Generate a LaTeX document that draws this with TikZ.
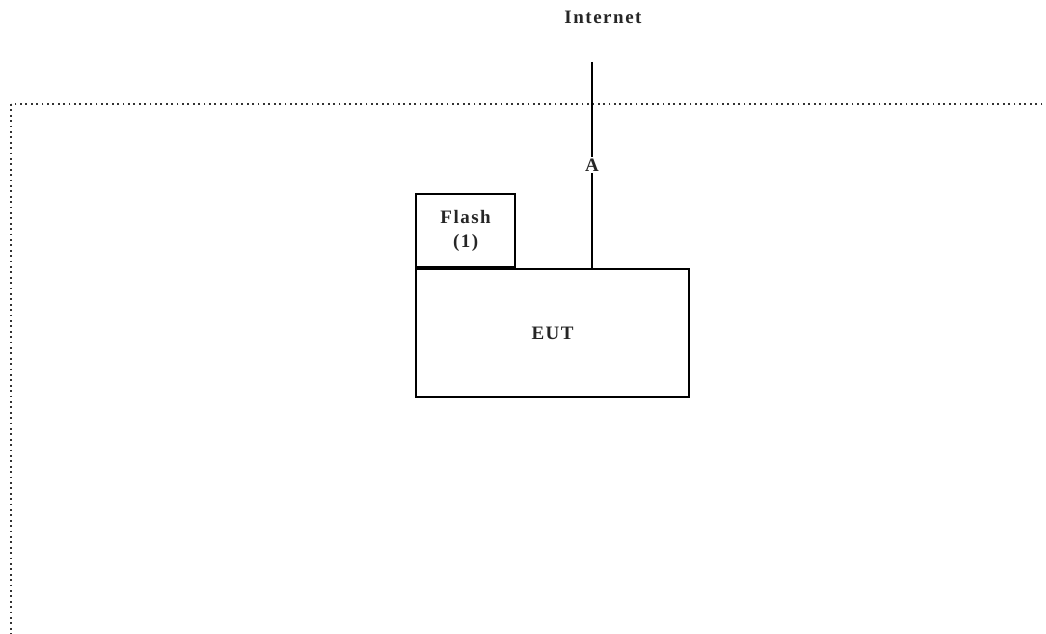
\documentclass[tikz,border=0pt]{standalone}
\usepackage{fontspec}
\setmainfont{Liberation Serif}[LetterSpace=8]
\begin{document}
\begin{tikzpicture}[x=1pt,y=-1pt,
  lbl/.style={font=\fontsize{19}{22}\selectfont\bfseries, text=black!85, align=center},
  box/.style={draw, line width=2.2pt, inner sep=0pt},
  frame/.style={line width=2pt, dash pattern=on 1.8pt off 3.6pt, black!80}]
\useasboundingbox (0,0) rectangle (1046,634);
\begin{scope}
\clip (0,0) rectangle (1046,634);
\draw[frame] (11,104) rectangle (1060,634.5);
\end{scope}
\node[box, minimum width=273pt, minimum height=128pt, anchor=north west] (eut) at (415,268) {};
\node[lbl] (eutl) at (eut.center) {EUT};
\node[box, minimum width=99pt, minimum height=73pt, anchor=south west] (flash) at (eut.north west) {};
\node[lbl] (flashl) at ([yshift=-1pt]flash.center) {Flash\\[2pt](1)};
\node[lbl] (inet) at (603,17) {Internet};
\coordinate (top) at (592,62);
\coordinate (base) at (592,268);
\draw[line width=2.2pt] (top) -- (base) node[pos=0.5, fill=white, inner sep=2pt, lbl] (A) {A};
\end{tikzpicture}
\end{document}
